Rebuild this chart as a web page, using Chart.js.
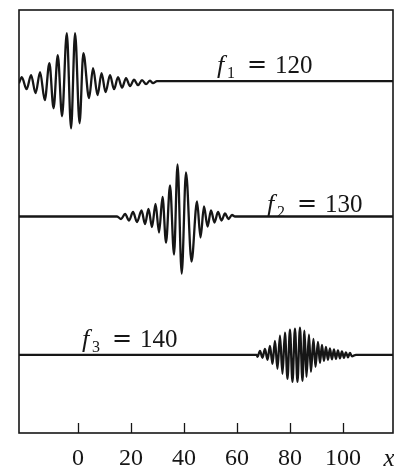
<!DOCTYPE html>
<html><head><meta charset="utf-8">
<script src="https://cdn.jsdelivr.net/npm/chart.js@4/dist/chart.umd.min.js"></script>
<style>html,body{margin:0;padding:0;background:#fff}</style>
</head><body>
<canvas id="c" width="394" height="470"></canvas>
<script>
// Tick labels on the x axis
const xTicks = [0, 20, 40, 60, 80, 100];
// Frequencies (labels)
const freqs = ['120', '130', '140'];
// Resting levels of the three traces (y units)
const baselines = [351, 216, 78];

// Trace 1 (f1 = 120): x positions and displacements of extrema
const wave1X = [-22.3, -21.25, -19.43, -17.74, -16.04, -14.34, -12.57, -10.83, -9.25, -7.66, -6.04, -4.26, -2.64, -1.13, 0.57, 2.0, 4.15, 5.66, 7.36, 8.87, 10.38, 12.08, 13.58, 15.09, 16.6, 18.11, 19.62, 21.13, 22.64, 24.15, 25.66, 27.17, 28.3, 29.8, 118.9];
const wave1Y = [-2, 4, -8, 6, -12, 9, -19, 18, -27, 26, -35, 48, -47, 48, -42, 28, -17, 13, -14, 8, -11, 6, -8, 4, -6.5, 3, -5, 1.5, -4, 1, -3, 0.5, -2, 0, 0];

// Trace 2 (f2 = 130)
const wave2X = [-22.3, 14.72, 16.23, 17.74, 19.25, 20.75, 22.26, 23.96, 25.28, 26.6, 27.92, 29.25, 30.57, 31.89, 33.21, 34.72, 36.23, 37.55, 39.13, 40.75, 42.83, 44.91, 46.23, 47.55, 48.87, 50.19, 51.51, 52.83, 54.15, 55.47, 56.79, 58.11, 59.25, 118.9];
const wave2Y = [0, 0, -2.5, 2.5, -4, 4.5, -5.5, 6, -7.5, 7.5, -10.5, 12.5, -16, 19.5, -26, 31, -38, 52, -57, 44, -45, 15, -21, 10, -10, 6, -6, 4.5, -4, 3, -2.5, 1.5, 0, 0];

// Trace 3 (f3 = 140)
const wave3X = [-22.3, 67.43, 67.74, 68.68, 69.62, 70.57, 71.51, 72.45, 73.40, 74.34, 75.28, 76.23, 77.17, 78.11, 79.06, 80.00, 80.94, 81.89, 82.83, 83.77, 84.72, 85.47, 86.23, 87.17, 87.92, 88.87, 89.62, 90.57, 91.32, 92.08, 92.83, 93.58, 94.34, 95.09, 95.85, 96.60, 97.36, 98.11, 98.87, 99.62, 100.38, 101.13, 101.89, 102.64, 103.40, 104.91, 118.9];
const wave3Y = [0, 0, -2, 4, -3, 6, -5, 9, -9, 14, -14, 19, -19, 22, -24, 25, -27, 26, -27, 27, -26, 24, -22, 20, -17, 16, -12, 13, -8, 10, -6, 8, -5, 6.5, -4.5, 5.5, -4, 4.5, -3.5, 3.5, -3, 2.5, -2.5, 2, -1.5, 0, 0];

const waves = [[wave1X, wave1Y], [wave2X, wave2Y], [wave3X, wave3Y]];

const labelSpecs = [
  {x: 52.45, y: 359, sub: '1', val: freqs[0]},
  {x: 71.32, y: 220, sub: '2', val: freqs[1]},
  {x: 1.51, y: 86, sub: '3', val: freqs[2]}
];

const ink = '#161616';

const decor = {
  id: 'decor',
  afterDatasetsDraw(chart) {
    const ctx = chart.ctx, a = chart.chartArea;
    const xs = chart.scales.x, ys = chart.scales.y;
    ctx.save();
    ctx.strokeStyle = ink;
    ctx.lineWidth = 1.6;
    ctx.strokeRect(a.left, a.top, a.right - a.left, a.bottom - a.top);
    // inward tick marks
    ctx.lineWidth = 1.3;
    xTicks.forEach(v => {
      const px = Math.round(xs.getPixelForValue(v)) + 0.5;
      ctx.beginPath();
      ctx.moveTo(px, a.bottom);
      ctx.lineTo(px, a.bottom - 10);
      ctx.stroke();
    });
    // labels
    ctx.fillStyle = ink;
    ctx.textBaseline = 'alphabetic';
    ctx.textAlign = 'left';
    labelSpecs.forEach(l => {
      const px = xs.getPixelForValue(l.x), py = ys.getPixelForValue(l.y);
      ctx.font = 'italic 26px "Liberation Serif"';
      ctx.fillText('f', px, py);
      ctx.font = '16px "Liberation Serif"';
      ctx.fillText(l.sub, px + 10, py + 5);
      ctx.font = '24px "DejaVu Serif"';
      ctx.fillText('=', px + 30, py - 1);
      ctx.font = '25px "Liberation Serif"';
      ctx.fillText(l.val, px + 58, py);
    });
    // axis variable
    ctx.font = 'italic 25px "Liberation Serif"';
    ctx.fillText('x', xs.getPixelForValue(115.3), a.bottom + 33);
    ctx.restore();
  }
};

new Chart(document.getElementById('c'), {
  type: 'line',
  data: {
    datasets: waves.map(([wx, wy], i) => ({
      data: wx.map((x, j) => ({x: x, y: baselines[i] + wy[j]})),
      borderColor: ink,
      borderWidth: 2.3,
      pointRadius: 0,
      fill: false,
      tension: 0.4,
      cubicInterpolationMode: 'monotone'
    }))
  },
  options: {
    responsive: false,
    animation: false,
    events: [],
    layout: {padding: {left: 19, right: 1, top: 10, bottom: -15}},
    plugins: {legend: {display: false}, tooltip: {enabled: false}},
    scales: {
      x: {
        type: 'linear', min: -22.3, max: 118.9,
        grid: {display: false, drawTicks: false},
        border: {display: false},
        afterBuildTicks: s => { s.ticks = xTicks.map(v => ({value: v})); },
        ticks: {autoSkip: false, maxRotation: 0, padding: 14, color: ink,
          font: {family: 'Liberation Serif', size: 24, lineHeight: 1}}
      },
      y: {display: false, min: 0, max: 422}
    }
  },
  plugins: [decor]
});
</script>
</body></html>
